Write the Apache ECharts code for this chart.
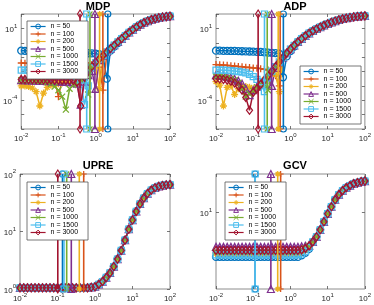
<!DOCTYPE html>
<html><head><meta charset="utf-8">
<script src="https://cdn.jsdelivr.net/npm/echarts@6/dist/echarts.min.js"></script>
<style>html,body{margin:0;padding:0;background:#fff}#c{width:374px;height:305px}</style>
</head><body><div id="c"></div>
<script>
// ---------- data (x: log10 lambda, y: log10 of plotted value) ----------
const lamExp = [-2.0,-1.9,-1.8,-1.7,-1.6,-1.5,-1.4,-1.3,-1.2,-1.1,-1.0,-0.9,-0.8,-0.7,-0.6,-0.5,-0.4,-0.3,-0.2,-0.1,0.0,0.1,0.2,0.3,0.4,0.5,0.6,0.7,0.8,0.9,1.0,1.1,1.2,1.3,1.4,1.5,1.6,1.7,1.8,1.9,2.0];
const nLabels = ['n = 50','n = 100','n = 200','n = 500','n = 1000','n = 1500','n = 3000'];
const panelTitles = ['MDP','ADP','UPRE','GCV'];
const lamRange = [1e-2, 1e2];
const xTickExp = [-2,-1,0,1,2];

// MDP
const mdpYRange = [1e-6, 1e2];
const mdpYLabelExp = [-4, 1];
const mdpRiseStart = 17;
const mdpRise = [-2.35,-2.0,-1.65,-1.35,-1.12,-0.88,-0.64,-0.40,-0.17,0.06,0.28,0.50,0.72,0.92,1.10,1.26,1.40,1.51,1.61,1.68,1.74,1.79,1.82,1.85];
const mdp50 = [-0.55,-0.56,-0.57,-0.58,-0.59,-0.60,-0.61,-0.62,-0.63,-0.64,-0.65,-0.66,-0.67,-0.68,-0.69,-0.70,-0.71,-0.72,-0.73,-0.74,-0.76,-0.80,-0.95,-2.5,-0.55,-0.27,-0.03];
const mdp100 = [-1.41,-1.42,-1.44,-1.46,-1.50,-1.55,-1.62,-1.72,-2.0,-2.6,-3.75,-2.6,-2.2,-2.0,-1.9,-1.8,-1.72,-1.65,-1.58,-1.52,-1.5,-1.7,-3.3,-0.8];
const mdp200 = [-3.0,-3.0,-3.05,-3.15,-3.4,-4.4,-3.5,-3.1,-2.95,-2.9,-2.85,-2.8,-2.7,-2.6,-2.45,-2.3,-2.1,-1.9,-1.72,-1.6,-1.65,-3.2,-1.0,-0.7];
const mdp500 = [-2.6,-2.6,-2.61,-2.62,-2.63,-2.64,-2.65,-2.66,-2.67,-2.68,-2.69,-2.7,-2.72,-2.74,-2.76,-2.85,-4.3,-2.7,-2.25,-1.95,-3.2,-1.2];
const mdp1000 = [-2.6,-2.6,-2.61,-2.62,-2.63,-2.65,-2.68,-2.72,-2.85,-3.05,-3.3,-3.75,-4.65,-3.2,-2.95,-2.8,-2.6,-2.45,-3.6,-1.75];
const mdp1500 = [-1.9,-1.9,-1.9,-1.91,-1.91,-1.92,-1.92,-1.93,-1.93,-1.94,-1.95,-1.97,-2.0,-2.05,-2.15,-2.3,-2.6,-4.3,-3.0,-1.72,-1.4];
const mdp3000 = [-2.55,-2.55,-2.55,-2.56,-2.56,-2.57,-2.57,-2.58,-2.58,-2.59,-2.59,-2.6,-2.6,-2.61,-2.62,-2.75,-4.4,-2.4];
const mdpLamStar = [0.328, 0.195, 0.107, -0.019, -0.152, -0.24, -0.419];

// ADP
const adpYRange = [1e-6, 1e2];
const adpYLabelExp = [-4, 1];
const adpRiseStart = 9;
const adpRise = [-3.85,-3.5,-3.2,-2.9,-2.6,-2.3,-1.98,-1.66,-1.34,-1.02,-0.72,-0.44,-0.18,0.06,0.28,0.48,0.66,0.82,0.96,1.09,1.21,1.32,1.42,1.51,1.59,1.66,1.71,1.76,1.80,1.83,1.85,1.87];
const adp50 = [-0.55,-0.55,-0.56,-0.56,-0.57,-0.57,-0.58,-0.59,-0.60,-0.61,-0.62,-0.63,-0.64,-0.66,-0.68,-0.70,-0.72,-0.76,-2.4,-0.95,-0.58,-0.26];
const adp100 = [-1.52,-1.53,-1.55,-1.57,-1.6,-1.62,-1.65,-1.67,-1.7,-1.72,-1.75,-1.77,-1.8,-1.85,-1.9,-2.05,-2.3,-3.0,-1.1];
const adp200 = [-2.7,-2.95,-4.4,-3.1,-3.0,-3.6,-3.2,-3.05,-3.05,-3.1,-3.2,-3.15,-2.85,-2.55,-2.3,-2.1,-2.2,-3.4,-1.1];
const adp500 = [-2.25,-2.27,-2.3,-2.35,-2.42,-2.52,-2.65,-2.85,-3.2,-3.65,-3.3,-3.05,-2.8,-2.55,-2.4,-3.0,-1.75];
const adp1000 = [-2.35,-2.37,-2.4,-2.45,-2.5,-2.6,-2.8,-3.2,-3.75,-3.55,-3.35,-3.1,-2.85,-2.9,-3.3,-2.05];
const adp1500 = [-1.9,-1.9,-1.91,-1.92,-1.94,-1.97,-2.0,-2.05,-2.1,-2.2,-2.35,-2.55,-2.7,-3.4,-2.45];
const adp3000 = [-2.5,-2.52,-2.55,-2.6,-2.68,-2.8,-3.0,-3.3,-3.8,-4.7,-3.45];
const adpLamStar = [-0.19, -0.276, -0.329, -0.505, -0.624, -0.697, -0.868];

// UPRE (all n coincide)
const upreYRange = [1, 100];
const upreYLabelExp = [0, 1, 2];
const upreCurve = [0.02,0.02,0.02,0.02,0.02,0.02,0.02,0.02,0.02,0.02,0.02,0.02,0.02,0.02,0.02,0.02,0.02,0.02,0.02,0.03,0.04,0.08,0.13,0.2,0.28,0.39,0.52,0.67,0.85,1.04,1.2,1.35,1.48,1.58,1.66,1.72,1.76,1.785,1.8,1.81,1.815];
const upreLamStar = [-0.867, -0.301, -0.419, -0.632, -0.755, -0.827, -0.992];

// GCV
const gcvYRange = [1.74, 24.3];
const gcvYLabelExp = [1];
const gcvRiseStart = 23;
const gcvRise = [0.63,0.645,0.67,0.71,0.76,0.83,0.91,0.99,1.06,1.13,1.18,1.22,1.25,1.27,1.29,1.30,1.31,1.315];
const gcv50 = [0.56,0.56,0.56,0.56,0.56, 0.56,0.56,0.56,0.56,0.56, 0.56,0.56,0.56,0.56,0.56, 0.56,0.56,0.56,0.56,0.56, 0.56,0.56,0.56, 0.575,0.60,0.64];
const gcv100 = [0.60,0.60,0.60,0.60,0.60, 0.60,0.60,0.60,0.60,0.60, 0.60,0.60,0.60,0.60,0.60, 0.60,0.60,0.60,0.60,0.60, 0.60,0.60,0.60, 0.61,0.63];
const gcv200 = [0.595,0.595,0.595,0.595,0.595, 0.595,0.595,0.595,0.595,0.595, 0.595,0.595,0.595,0.595,0.595, 0.595,0.595,0.595,0.595,0.595, 0.595,0.595,0.595, 0.61,0.63];
const gcv500 = [0.66,0.66,0.66,0.66,0.66, 0.66,0.66,0.66,0.66,0.66, 0.66,0.66,0.66,0.66,0.66, 0.66,0.66,0.66,0.66,0.66, 0.66,0.66,0.66, 0.665,0.67];
const gcv1000 = [0.61,0.61,0.61,0.61,0.61, 0.61,0.61,0.61,0.61,0.61, 0.61,0.61,0.61,0.61,0.61, 0.61,0.61,0.61,0.61,0.61, 0.61,0.61,0.61, 0.63];
const gcv1500 = [0.58,0.58,0.58,0.58,0.58, 0.58,0.58,0.58,0.58,0.58, 0.58,0.58,0.58,0.58,0.58, 0.58,0.58,0.58,0.58,0.58, 0.58,0.58,0.58, 0.59,0.615,0.655];
const gcv3000 = [0.625,0.625,0.625,0.625,0.625, 0.625,0.625,0.625,0.625,0.625, 0.625,0.625,0.625,0.625,0.625, 0.625,0.625,0.625,0.625,0.625, 0.625,0.625,0.625];
const gcvLamStar = [-0.947, -0.263, -0.342, -0.526, null, -0.947, null];

// ---------- styles ----------
const fam = 'Liberation Sans, Arial, Helvetica, sans-serif';
const colors = ['#0072BD','#D95319','#EDB120','#7E2F8E','#77AC30','#4DBEEE','#A2142F'];
const symbols = ['circle','path://M0,5L10,5M5,0L5,10','path://M0,5L10,5M5,0L5,10M1.6,1.6L8.4,8.4M1.6,8.4L8.4,1.6','triangle','path://M0,0L10,10M0,10L10,0','rect','diamond'];
const curveSym = [7,7,7,7,6,6,[6,8]];
const lineSym = [6,6,6,7,5,6,[5,8]];
const grids = [
  {left:20, top:14, width:150, height:115},
  {left:216, top:14, width:152, height:115},
  {left:20, top:174, width:150, height:115},
  {left:216, top:174, width:152, height:115}
];
const legendPos = [[27,21],[300,66],[27,182],[225,182]];
const titlePos = [[98,7],[295,7],[98,166],[295,166]];

const L = Math.log10;
const panels = [
  {heads:[mdp50,mdp100,mdp200,mdp500,mdp1000,mdp1500,mdp3000], rise:mdpRise, riseStart:mdpRiseStart, star:mdpLamStar, yr:mdpYRange, ylab:mdpYLabelExp},
  {heads:[adp50,adp100,adp200,adp500,adp1000,adp1500,adp3000], rise:adpRise, riseStart:adpRiseStart, star:adpLamStar, yr:adpYRange, ylab:adpYLabelExp},
  {heads:[upreCurve,upreCurve,upreCurve,upreCurve,upreCurve,upreCurve,upreCurve], rise:null, riseStart:0, star:upreLamStar, yr:upreYRange, ylab:upreYLabelExp},
  {heads:[gcv50,gcv100,gcv200,gcv500,gcv1000,gcv1500,gcv3000], rise:gcvRise, riseStart:gcvRiseStart, star:gcvLamStar, yr:gcvYRange, ylab:gcvYLabelExp}
];

const rich = {
  b:{fontSize:8, lineHeight:11, verticalAlign:'bottom', color:'#262626', fontFamily:fam},
  s:{fontSize:6, lineHeight:7, verticalAlign:'top', color:'#262626', fontFamily:fam}
};
const fmt = v => '{b|10}{s|' + Math.round(v) + '}';
const tickStyle = {inside:true, length:3, lineStyle:{color:'#555', width:0.8}};

const xAxis = [], yAxis = [], series = [];
panels.forEach((p, g) => {
  const xr = [L(lamRange[0]), L(lamRange[1])];
  const yr = [L(p.yr[0]), L(p.yr[1])];
  const yTicks = [];
  for (let k = Math.ceil(yr[0] - 1e-9); k <= Math.floor(yr[1] + 1e-9); k++) yTicks.push(k);
  const ax = xAxis.length, ay = yAxis.length;
  [false, true].forEach(sec => {
    xAxis.push({type:'value', gridIndex:g, min:xr[0], max:xr[1], position: sec?'top':'bottom',
      axisLine:{show:false, onZero:false}, splitLine:{show:false},
      axisTick:Object.assign({customValues:xTickExp}, tickStyle),
      axisLabel: sec ? {show:false} : {customValues:xTickExp, margin:3, formatter:fmt, rich:rich}});
    yAxis.push({type:'value', gridIndex:g, min:yr[0], max:yr[1], position: sec?'right':'left',
      axisLine:{show:false, onZero:false}, splitLine:{show:false},
      axisTick:Object.assign({customValues:yTicks}, tickStyle),
      axisLabel: sec ? {show:false} : {customValues:p.ylab, margin:4, formatter:fmt, rich:rich}});
  });
  p.heads.forEach((h, k) => {
    const vals = p.rise ? h.concat(p.rise.slice(h.length - p.riseStart)) : h;
    series.push({type:'line', name:nLabels[k], xAxisIndex:ax, yAxisIndex:ay,
      data: lamExp.map((e, i) => [e, vals[i]]),
      symbol:symbols[k], symbolSize:curveSym[k], showAllSymbol:true,
      lineStyle:{color:colors[k], width:1.5},
      itemStyle:{color:'rgba(0,0,0,0)', borderColor:colors[k], borderWidth:1.3},
      clip:false, silent:true, animation:false, emphasis:{disabled:true}, z:2});
  });
  p.star.forEach((s, k) => {
    if (s === null) return;
    series.push({type:'line', name:nLabels[k], xAxisIndex:ax, yAxisIndex:ay,
      data: [[s, yr[0]], [s, yr[1]]],
      symbol:symbols[k], symbolSize:lineSym[k],
      lineStyle:{color:colors[k], width:1.6},
      itemStyle:{color:'rgba(0,0,0,0)', borderColor:colors[k], borderWidth:1.2},
      clip:false, silent:true, animation:false, emphasis:{disabled:true}, z:3});
  });
});

const legend = legendPos.map(pos => ({
  data:nLabels, left:pos[0], top:pos[1], orient:'vertical',
  itemWidth:15, itemHeight:6, itemGap:0.5, padding:[2,10,4,3],
  backgroundColor:'#fff', borderColor:'#555', borderWidth:0.8,
  textStyle:{fontSize:7, lineHeight:7, color:'#000', fontFamily:fam},
  itemStyle:{borderWidth:1}, lineStyle:{width:1.2},
  selectedMode:false, z:10
}));

const graphic = panelTitles.map((t, i) => ({
  type:'text', x:titlePos[i][0], y:titlePos[i][1], z:20,
  style:{text:t, textAlign:'center', textVerticalAlign:'middle', font:'bold 11px ' + fam, fill:'#000'}
}));

const chart = echarts.init(document.getElementById('c'), null, {renderer:'canvas'});
chart.setOption({
  animation:false,
  backgroundColor:'#fff',
  grid: grids.map(gd => Object.assign({show:true, borderColor:'#8c8c8c', borderWidth:1, backgroundColor:'rgba(0,0,0,0)'}, gd)),
  xAxis, yAxis, series, legend, graphic
});
</script></body></html>
